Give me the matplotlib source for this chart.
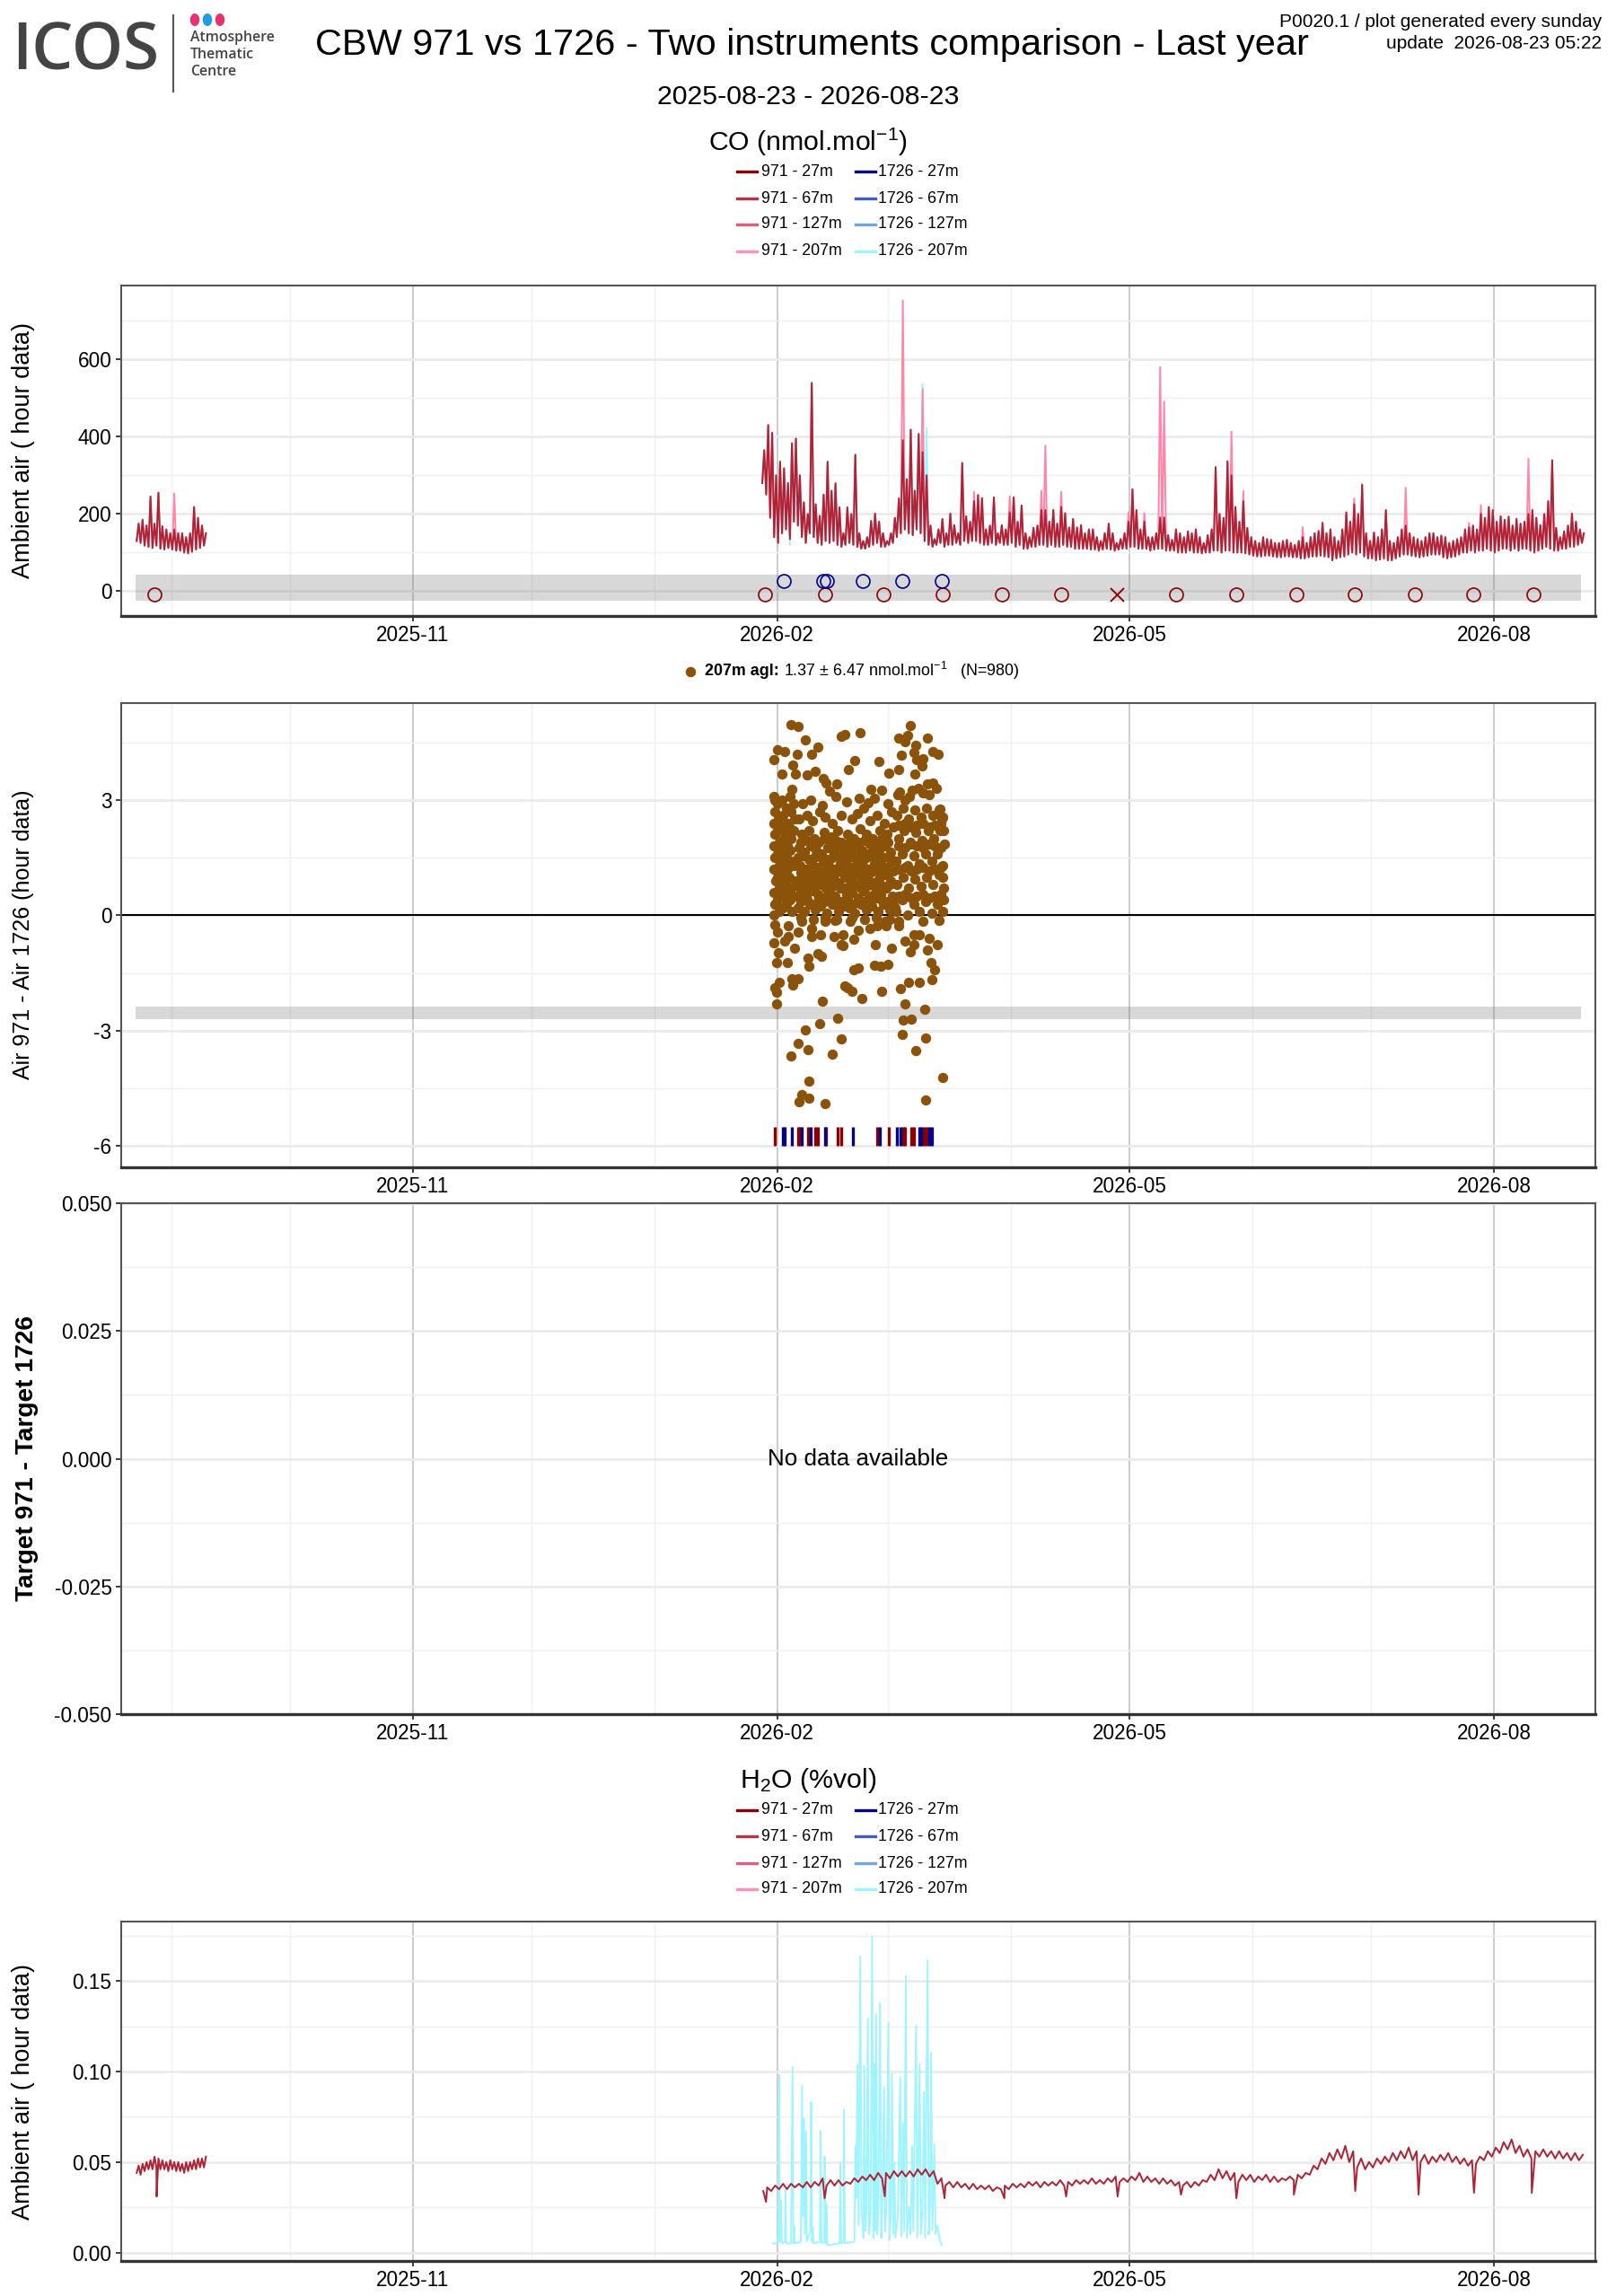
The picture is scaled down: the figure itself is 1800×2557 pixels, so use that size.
import numpy as np
import matplotlib
matplotlib.use("Agg")
import matplotlib.pyplot as plt
import matplotlib.dates as mdates
from matplotlib.lines import Line2D
from matplotlib.patches import Circle

plt.rcParams['font.family'] = ['Liberation Sans', 'DejaVu Sans']
plt.rcParams['mathtext.fontset'] = 'custom'
plt.rcParams['mathtext.rm'] = 'Liberation Sans'
plt.rcParams['mathtext.bf'] = 'Liberation Sans:bold'
plt.rcParams['mathtext.it'] = 'Liberation Sans:italic'
plt.rcParams['axes.unicode_minus'] = False

W, H, DPI = 1800, 2557, 150

# ---- data -------------------------------------------------------------
period = ['2025-08-23', '2026-08-23']
seg2_origin = '2026-02-01'   # day 0 for the second data block

# CO ambient air, first block (daily low / high from 2025-08-23)
co_seg1_low = [130, 125, 118, 115, 112, 118, 110, 108, 112, 108, 105, 105, 100, 98, 102, 108, 112, 118]
co_seg1_high = [175, 185, 170, 245, 175, 255, 168, 160, 150, 160, 150, 150, 140, 150, 218, 190, 170, 150]
co207_seg1_spike_days = [9]
co207_seg1_spike_vals = [253]

# CO ambient air, second block (daily low / high, day -4 .. 203 from 2026-02-01)
co_first_day = -4
co_low = [280, 250, 190, 140, 125, 150, 160, 135, 180, 170,
          140, 125, 150, 140, 125, 120, 130, 125, 130, 120,
          115, 120, 125, 120, 115, 110, 110, 115, 120, 125,
          115, 115, 120, 125, 140, 150, 160, 150, 145, 160,
          150, 130, 120, 115, 120, 125, 115, 120, 120, 125,
          120, 130, 125, 130, 130, 125, 120, 120, 125, 120,
          125, 120, 120, 125, 115, 120, 110, 110, 115, 115,
          120, 120, 115, 120, 115, 115, 120, 115, 115, 110,
          110, 110, 110, 108, 108, 105, 108, 110, 108, 105,
          108, 110, 110, 115, 115, 110, 110, 110, 105, 108,
          110, 110, 105, 105, 105, 100, 100, 100, 105, 100,
          100, 98, 100, 100, 105, 105, 100, 105, 105, 100,
          100, 100, 98, 95, 92, 90, 90, 92, 92, 90,
          88, 88, 90, 90, 88, 88, 85, 85, 88, 90,
          90, 92, 90, 88, 80, 85, 88, 90, 95, 100,
          95, 100, 90, 85, 85, 80, 82, 85, 80, 80,
          85, 90, 95, 95, 92, 90, 88, 90, 92, 95,
          95, 95, 88, 85, 88, 90, 95, 100, 100, 105,
          100, 105, 105, 110, 105, 100, 105, 110, 110, 105,
          110, 105, 110, 110, 105, 100, 105, 110, 115, 110,
          105, 105, 110, 110, 115, 115, 120, 125]
co_high = [365, 430, 410, 300, 335, 318, 280, 383, 395, 300,
           230, 200, 539, 225, 195, 250, 335, 260, 279, 217,
           150, 217, 200, 353, 150, 130, 140, 182, 201, 180,
           150, 130, 150, 190, 240, 391, 290, 418, 260, 407,
           360, 300, 170, 135, 160, 187, 150, 201, 171, 150,
           332, 194, 180, 233, 249, 241, 160, 170, 243, 150,
           171, 160, 204, 243, 180, 222, 150, 140, 164, 170,
           210, 210, 180, 210, 175, 218, 202, 165, 187, 165,
           171, 150, 160, 160, 140, 130, 150, 175, 150, 125,
           135, 150, 180, 264, 210, 160, 180, 140, 140, 150,
           191, 191, 145, 133, 160, 150, 140, 155, 150, 160,
           140, 125, 145, 160, 321, 200, 190, 336, 300, 218,
           180, 233, 164, 140, 130, 125, 140, 135, 133, 125,
           125, 130, 133, 125, 120, 130, 140, 125, 140, 150,
           156, 177, 150, 160, 140, 130, 160, 204, 180, 225,
           200, 276, 150, 130, 152, 140, 160, 210, 130, 125,
           140, 160, 170, 150, 140, 135, 130, 140, 150, 150,
           140, 144, 140, 125, 130, 135, 140, 160, 165, 170,
           160, 200, 190, 218, 210, 180, 194, 185, 193, 170,
           187, 175, 180, 200, 210, 190, 171, 200, 233, 339,
           164, 140, 155, 170, 201, 180, 160, 150]
co207_spike_days = [31, 36, 49, 58, 66, 67, 71, 88, 92, 96, 97, 114, 117, 132, 145, 158, 174, 177, 189]
co207_spike_vals = [752, 523, 257, 246, 260, 377, 257, 204, 202, 580, 491, 413, 259, 166, 240, 268, 177, 223, 343]
co1726_span = [-1, 42]
co1726_spike_days = [36, 37]
co1726_spike_vals = [537, 422]
co1726_low_days = [3]
co1726_low_vals = [120]

# calibration markers on CO panel (days from 2026-02-01)
cal971_days = [-157.3, -3.1, 12.0, 26.9, 41.8, 56.8, 71.8, 100.7, 116.0, 131.1, 145.9, 161.0, 175.8, 190.9]
cal971_level = -8
cal971_fail_days = [85.8]
cal1726_days = [1.7, 11.7, 12.5, 21.6, 31.6, 41.6]
cal1726_level = 26
co_band = [-25, 42]

# Air 971 - Air 1726 differences, 207m (days from 2026-02-01, nmol/mol)
diff_day = [
    3.5, 5.2, 7.1, 16.1, 17.0, 21.0, 30.7, 32.2, 33.6, 33.0, 34.9, 37.9, 39.4, 40.7, -0.9, 0.0, 2.0, 5.0, 8.6, 10.4,
    4.0, 1.2, 4.6, 7.5, 9.6, 11.6, 12.4, 15.1, 13.2, 3.7, 18.0, 19.6, 25.7, 26.5, 23.7, 28.2, 30.7, 31.4, 34.5, 35.2,
    36.8, 36.6, 34.7, 37.9, 39.4, 36.8, 34.2, 30.5, 32.3, -0.5, 20.8, 23.0, 41.2, 41.7, 40.6,
    -0.15, -0.5, -0.15, 0.6, 3.7, 5.2, 3.9, 2.5, -0.1, 4.4, 7.8, 8.0, 10.3, 11.3, 11.5, 17.1, 17.7, 18.9, 19.3, 20.6,
    21.3, 24.6, 26.1, 28.0, 26.3, 31.2, 32.3, 33.3, 36.0, 39.2, 38.8, 39.7, 31.8, 33.9, 37.2, 15.3, 10.7, 7.1, 5.4, 7.7,
    3.4, 13.9, 16.1, 31.7, 34.9, 37.5, 41.7, 8.1, 6.2, 5.6, 8.1, 12.1, 37.4,
    -0.5, 0.2, -0.7, 0.4, 1.8, 2.9, 5.2, 8.6, 8.6, 10.9, 14.3, 16.2, 16.6, 19.3, 20.6, 23.4, 25.3, 24.9, 27.6, 28.8,
    30.7, 32.2, 33.7, 34.5, 36.0, 38.4, 40.4, 37.9, 40.9, 36.8, 34.5, 16.6, 14.7, 18.5, 12.0, 6.3, 2.9, 27.3, 30.7,
    -0.9, -0.6, -0.8, -0.5, -0.9, -0.6, -0.9, -0.4, -0.8, -0.5, -0.9, 0.2, 0.4, 0.1, 0.5, 0.2, 0.6, 0.1, 0.5, 0.2,
    0.6, 1.2, 1.5, 1.1, 1.6, 1.2, 1.5, 1.1, 1.6, 1.2, 1.5, 2.3, 2.5, 2.2, 2.6, 2.3, 2.7, 2.2, 2.6, 2.3,
    3.2, 3.5, 3.1, 3.6, 3.2, 3.5, 3.1, 3.6, 3.3, 3.8, 4.2, 4.5, 4.1, 4.4, 4.6, 4.2,
    5.3, 6.8, 8.2, 9.6, 11.0, 12.5, 13.9, 15.4, 16.8, 18.2, 19.7, 21.1, 22.6, 24.0, 25.5, 26.9, 28.4, 29.8,
    5.9, 7.4, 8.8, 10.2, 11.7, 13.1, 14.6, 16.0, 17.5, 18.9, 20.4, 21.8, 23.3, 24.7, 26.2, 27.6, 29.1,
    5.4, 6.9, 8.3, 9.7, 11.2, 12.6, 14.1, 15.5, 17.0, 18.4, 19.9, 21.3, 22.8, 24.2, 25.7, 27.1, 28.6,
    5.8, 7.3, 8.7, 10.1, 11.6, 13.0, 14.5, 15.9, 17.4, 18.8, 20.3, 21.7, 23.2, 24.6, 26.1, 27.5, 29.0,
    5.5, 7.0, 8.4, 9.9, 11.3, 12.8, 14.2, 15.7, 17.1, 18.6, 20.0, 21.5, 22.9, 24.4, 25.8, 27.3, 28.7,
    6.2, 8.0, 9.5, 11.9, 13.6, 15.2, 17.8, 19.4, 21.0, 22.5, 24.1, 25.9, 27.8, 29.4,
    5.6, 7.6, 9.0, 10.8, 12.2, 14.0, 16.3, 18.9, 20.2, 23.5, 25.2, 27.0, 28.9,
    6.5, 8.5, 11.4, 14.8, 17.5, 21.8, 24.6, 27.9,
    6.0, 9.2, 12.0, 15.0, 19.0, 22.0, 25.0, 28.5,
    30.0, 31.5, 33.0, 34.5, 36.0, 37.5, 39.0, 40.5, 41.8,
    30.3, 31.8, 33.3, 34.8, 36.3, 37.8, 39.3, 40.8, 42.0,
    30.0, 31.5, 33.0, 34.5, 36.0, 37.5, 39.0, 40.5, 41.9,
    30.6, 32.1, 33.6, 35.1, 36.6, 38.1, 39.6, 41.1, 42.2,
    30.3, 31.8, 33.3, 34.8, 36.3, 37.8, 39.3, 40.8,
    31.0, 33.5, 35.8, 38.5, 40.2, 41.5, 42.0, 41.7, 42.1,
    6.1, 7.6, 9.0, 10.5, 11.9, 13.4, 14.8, 16.3, 17.7, 19.2, 20.6, 22.1, 23.5, 25.0, 26.4, 27.9, 29.3,
    5.2, 6.6, 8.1, 9.5, 11.0, 12.4, 13.9, 15.3, 16.8, 18.2, 19.7, 21.1, 22.6, 24.0, 25.5, 26.9, 28.4,
    6.1, 7.6, 9.0, 10.5, 11.9, 13.4, 14.8, 16.3, 17.7, 19.2, 20.6, 22.1, 23.5, 25.0, 26.4, 27.9, 29.3,
    5.2, 6.6, 8.1, 9.5, 11.0, 12.4, 13.9, 15.3, 16.8, 18.2, 19.7, 21.1, 22.6, 24.0, 25.5, 26.9, 28.4,
    6.1, 7.6, 9.0, 10.5, 11.9, 13.4, 14.8, 16.3, 17.7, 19.2, 20.6, 22.1, 23.5, 25.0, 26.4, 27.9,
    30.8, 32.3, 33.8, 35.3, 36.8, 38.3, 39.8, 41.3,
    30.8, 32.3, 33.8, 35.3, 36.8, 38.3, 39.8, 41.3,
    30.8, 32.3, 33.8, 35.3, 36.8, 38.3, 39.8, 41.3,
    30.8, 32.3, 33.8, 35.3, 36.8, 38.3, 39.8, 41.3]
diff_val = [
    4.96, 4.92, 4.56, 4.65, 4.70, 4.75, 4.61, 4.51, 4.94, 4.68, 4.43, 4.60, 4.27, 4.20, 4.04, 4.30, 4.26, 4.18, 4.20, 4.37,
    3.90, 3.67, 3.67, 3.65, 3.74, 3.55, 3.45, 3.41, 3.23, 3.28, 3.80, 4.02, 4.00, 3.25, 3.29, 3.69, 3.80, 4.16, 4.24, 4.05,
    4.08, 3.88, 3.67, 3.43, 3.45, 3.18, 3.25, 3.14, 3.00, 3.00, 3.04, 2.94, 2.76, 2.55, 2.31,
    -2.31, -1.88, -2.00, -1.73, -1.65, -1.65, -1.82, -1.22, -1.23, -0.86, -1.10, -1.31, -1.00, -1.06, -2.22, -1.84, -1.88, -1.98, -1.41, -1.37,
    -2.17, -1.29, -1.31, -1.28, -1.98, -1.90, -2.31, -1.75, -1.75, -1.66, -1.22, -1.41, -2.71, -2.69, -2.45, -2.67, -2.82, -2.98, -3.33, -3.49,
    -3.65, -3.61, -3.22, -3.10, -3.51, -3.18, -4.22, -4.31, -4.67, -4.84, -4.75, -4.89, -4.81,
    -0.24, -0.43, -0.71, -0.98, -0.67, -0.55, -0.43, -0.35, -0.55, -0.51, -0.55, -0.75, -0.51, -0.63, -0.39, -0.35, -0.27, -0.75, -0.27, -0.86,
    -0.27, -0.67, -0.94, -0.51, -0.51, -0.59, -0.75, -0.90, -0.12, -0.16, -0.75, -0.78, -0.12, -0.16, -0.16, -0.16, -0.27, -0.16, -0.16,
    3.1, 2.7, 2.4, 2.1, 1.8, 1.5, 1.2, 0.9, 0.6, 0.3, 0.0, 2.9, 2.5, 2.2, 1.9, 1.6, 1.3, 1.0, 0.7, 0.4,
    0.1, 3.0, 2.6, 2.3, 2.0, 1.7, 1.4, 1.1, 0.8, 0.5, 0.2, 2.8, 2.4, 2.1, 1.8, 1.5, 1.2, 0.9, 0.6, 0.3,
    3.1, 2.7, 2.3, 2.0, 1.7, 1.4, 1.0, 0.7, 0.4, 0.1, 2.9, 2.5, 2.2, 1.3, 0.9, 0.5,
    0.2, 0.1, 0.3, 0.15, 0.25, 0.05, 0.3, 0.1, 0.25, 0.2, 0.05, 0.3, 0.15, 0.25, 0.1, 0.3, 0.15, 0.2,
    0.6, 0.5, 0.65, 0.55, 0.45, 0.6, 0.5, 0.7, 0.55, 0.6, 0.45, 0.65, 0.5, 0.6, 0.55, 0.7, 0.5,
    0.9, 1.0, 0.85, 0.95, 1.05, 0.9, 1.0, 0.85, 1.0, 0.95, 1.05, 0.9, 1.0, 0.85, 0.95, 1.05, 0.9,
    1.3, 1.2, 1.35, 1.25, 1.4, 1.3, 1.2, 1.35, 1.3, 1.25, 1.4, 1.3, 1.2, 1.35, 1.3, 1.25, 1.4,
    1.75, 1.65, 1.8, 1.7, 1.6, 1.75, 1.7, 1.8, 1.65, 1.7, 1.8, 1.7, 1.6, 1.75, 1.7, 1.8, 1.65,
    2.1, 2.2, 2.0, 2.15, 2.05, 2.2, 2.1, 2.0, 2.25, 2.1, 2.0, 2.2, 2.1, 2.3,
    2.5, 2.6, 2.45, 2.7, 2.55, 2.4, 2.6, 2.5, 2.65, 2.45, 2.6, 2.4, 2.7,
    2.9, 3.0, 2.85, 3.1, 2.95, 2.8, 3.05, 2.9,
    -0.05, -0.1, -0.05, -0.1, -0.05, -0.1, -0.05, -0.1,
    0.1, 0.4, 0.0, 0.3, 0.1, 0.35, 0.05, 0.3, 0.1,
    0.8, 1.0, 0.7, 0.95, 0.75, 1.0, 0.8, 1.05, 0.7,
    1.4, 1.6, 1.3, 1.55, 1.35, 1.6, 1.4, 1.6, 1.3,
    2.0, 2.2, 1.9, 2.15, 1.95, 2.2, 2.0, 2.2, 1.85,
    2.6, 2.8, 2.5, 2.75, 2.55, 2.8, 2.6, 2.75,
    3.2, 3.1, 3.3, 3.15, 3.3, 2.5, 2.2, 1.0, 0.4,
    0.35, 0.4, 0.3, 0.45, 0.35, 0.4, 0.3, 0.35, 0.45, 0.3, 0.4, 0.35, 0.3, 0.45, 0.4, 0.35, 0.3,
    0.75, 0.8, 0.7, 0.75, 0.8, 0.7, 0.75, 0.8, 0.7, 0.75, 0.8, 0.7, 0.75, 0.8, 0.7, 0.75, 0.8,
    1.1, 1.15, 1.05, 1.1, 1.15, 1.05, 1.1, 1.15, 1.05, 1.1, 1.15, 1.05, 1.1, 1.15, 1.05, 1.1, 1.15,
    1.5, 1.55, 1.45, 1.5, 1.55, 1.45, 1.5, 1.55, 1.45, 1.5, 1.55, 1.45, 1.5, 1.55, 1.45, 1.5, 1.55,
    1.9, 1.95, 1.85, 1.9, 2.0, 1.85, 1.95, 1.9, 1.85, 2.0, 1.9, 1.95, 1.85, 1.9, 2.0, 1.9,
    0.5, 0.55, 0.45, 0.5, 0.55, 0.45, 0.5, 0.55,
    1.2, 1.25, 1.15, 1.2, 1.25, 1.15, 1.2, 1.25,
    1.8, 1.75, 1.85, 1.8, 1.75, 1.85, 1.8, 1.75,
    2.35, 2.4, 2.3, 2.35, 2.4, 2.3, 2.35, 2.4]
diff_band = [-2.69, -2.38]
diff_label_bold = '207m agl:'
diff_label_rest = r'1.37 $\pm$ 6.47 nmol.mol$^{-1}$   (N=980)'

# flagged hours (rug) on the difference panel
rug971_days = [-0.5, 5.2, 5.7, 7.8, 9.7, 10.3, 12.4, 15.3, 16.2, 25.3, 28.2, 31.8, 32.3, 33.9, 34.5, 37.1, 37.7]
rug1726_days = [1.4, 1.8, 3.7, 6.2, 8.4, 12.0, 19.1, 25.9, 30.3, 31.1, 36.0, 36.4, 38.3, 39.0]
rug_range = [-6.0, -5.5]

# H2O ambient air
h2o_seg1_low = [0.044, 0.043, 0.045, 0.046, 0.046, 0.047, 0.046, 0.046, 0.045, 0.046, 0.045, 0.045, 0.044, 0.045, 0.046, 0.046, 0.047, 0.047]
h2o_seg1_high = [0.048, 0.049, 0.050, 0.051, 0.053, 0.052, 0.051, 0.050, 0.051, 0.050, 0.050, 0.049, 0.050, 0.050, 0.051, 0.052, 0.052, 0.053]
h2o_seg1_dip_days = [5.3]
h2o_seg1_dip_vals = [0.031]
h2o_first_day = -4   # two-day steps
h2o_low = [0.034, 0.034, 0.035, 0.035, 0.036, 0.036, 0.036, 0.037, 0.037, 0.037,
           0.037, 0.038, 0.039, 0.040, 0.040, 0.041, 0.041, 0.042, 0.042, 0.042,
           0.043, 0.042, 0.038, 0.037, 0.036, 0.036, 0.035, 0.035, 0.035, 0.034,
           0.035, 0.035, 0.036, 0.036, 0.037, 0.036, 0.037, 0.037, 0.037, 0.037,
           0.038, 0.038, 0.038, 0.038, 0.039, 0.039, 0.039, 0.040, 0.039, 0.039,
           0.038, 0.038, 0.037, 0.037, 0.036, 0.037, 0.039, 0.040, 0.041, 0.040,
           0.039, 0.040, 0.039, 0.040, 0.039, 0.039, 0.040, 0.040, 0.041, 0.043,
           0.046, 0.049, 0.051, 0.052, 0.050, 0.047, 0.046, 0.047, 0.049, 0.050,
           0.051, 0.052, 0.051, 0.050, 0.049, 0.050, 0.051, 0.050, 0.049, 0.048,
           0.049, 0.051, 0.053, 0.055, 0.057, 0.055, 0.053, 0.052, 0.053, 0.053,
           0.052, 0.052, 0.051, 0.051]
h2o_high = [0.036, 0.037, 0.038, 0.038, 0.038, 0.039, 0.039, 0.041, 0.040, 0.040,
            0.039, 0.041, 0.042, 0.043, 0.044, 0.044, 0.045, 0.045, 0.045, 0.046,
            0.046, 0.045, 0.041, 0.039, 0.039, 0.038, 0.038, 0.037, 0.037, 0.036,
            0.037, 0.038, 0.038, 0.039, 0.039, 0.039, 0.039, 0.040, 0.039, 0.040,
            0.040, 0.041, 0.040, 0.041, 0.042, 0.041, 0.042, 0.044, 0.042, 0.041,
            0.041, 0.040, 0.039, 0.039, 0.039, 0.040, 0.043, 0.046, 0.045, 0.044,
            0.043, 0.043, 0.042, 0.043, 0.042, 0.041, 0.042, 0.043, 0.044, 0.048,
            0.052, 0.055, 0.057, 0.059, 0.056, 0.052, 0.050, 0.052, 0.053, 0.055,
            0.056, 0.058, 0.056, 0.054, 0.053, 0.054, 0.055, 0.053, 0.052, 0.051,
            0.053, 0.056, 0.058, 0.061, 0.0625, 0.059, 0.057, 0.056, 0.057, 0.056,
            0.056, 0.055, 0.055, 0.054]
h2o_dip_days = [-2.8, 12, 27.2, 42.3, 57.4, 73, 86, 102, 116, 130.5, 146, 162, 176, 190.6]
h2o_dip_vals = [0.028, 0.030, 0.031, 0.030, 0.030, 0.031, 0.031, 0.032, 0.030, 0.032, 0.034, 0.032, 0.033, 0.033]
h2o1726_days = [-1.1, 0.2, 0.3, 0.5, 0.7, 1.0, 1.2, 2.0, 2.1, 2.3, 3.5, 3.9, 4.1, 4.3, 4.5, 6.0, 6.3, 6.5, 6.8, 7.0,
                7.3, 7.5, 8.4, 8.6, 8.8, 9.0, 9.2, 10.8, 11.0, 11.2, 11.9, 12.0, 12.2, 12.5, 12.7, 15.8, 16.0, 16.2, 16.8, 16.9,
                17.1, 19.5, 19.8, 20.0, 20.3, 20.6, 21.0, 21.3, 21.6, 21.8, 22.0, 22.3, 22.6, 22.9, 23.2, 23.6, 24.0, 24.3, 24.5, 24.8,
                25.0, 25.3, 25.6, 26.0, 26.3, 26.6, 27.0, 27.3, 27.6, 28.1, 28.4, 28.7, 29.0, 29.3, 29.6, 29.9, 30.5, 31.1, 31.4, 31.8,
                32.1, 32.5, 32.8, 33.3, 33.7, 34.1, 34.4, 35.1, 35.4, 36.0, 36.3, 36.7, 37.1, 37.4, 38.0, 38.3, 38.6, 38.9, 39.2, 39.7,
                40.0, 40.5, 41.0, 41.6]
h2o1726_vals = [0.005, 0.005, 0.015, 0.098, 0.006, 0.029, 0.005, 0.006, 0.0345, 0.005, 0.005, 0.1025, 0.005, 0.0145, 0.005, 0.006, 0.092, 0.020, 0.074, 0.010,
                0.067, 0.006, 0.012, 0.083, 0.006, 0.014, 0.005, 0.006, 0.067, 0.005, 0.006, 0.053, 0.005, 0.027, 0.004, 0.005, 0.0495, 0.005, 0.006, 0.079,
                0.005, 0.006, 0.0587, 0.030, 0.104, 0.015, 0.1637, 0.020, 0.018, 0.008, 0.103, 0.012, 0.025, 0.1295, 0.010, 0.020, 0.175, 0.008, 0.1045, 0.012,
                0.1317, 0.010, 0.025, 0.138, 0.008, 0.030, 0.0915, 0.012, 0.025, 0.127, 0.007, 0.022, 0.0987, 0.010, 0.0495, 0.008, 0.020, 0.097, 0.009, 0.0717,
                0.012, 0.153, 0.008, 0.025, 0.010, 0.0587, 0.012, 0.1257, 0.008, 0.1045, 0.010, 0.022, 0.0887, 0.008, 0.1617, 0.010, 0.025, 0.1105, 0.012, 0.060,
                0.010, 0.015, 0.008, 0.004]

legend_labels = ['971 - 27m', '971 - 67m', '971 - 127m', '971 - 207m',
                 '1726 - 27m', '1726 - 67m', '1726 - 127m', '1726 - 207m']
legend_colors = ['#8B0000', '#B8323F', '#E0607C', '#FF91B2',
                 '#00008B', '#3D5EC8', '#6FA8E0', '#9EF4FF']

# ---- helpers -----------------------------------------------------------
FEB1 = mdates.date2num(np.datetime64(seg2_origin))
AUG23 = mdates.date2num(np.datetime64(period[0]))
P_END = mdates.date2num(np.datetime64(period[1]))
span = P_END - AUG23
XLIM = (AUG23 - 0.01 * span, P_END + 0.01 * span)


def zigzag(origin, first_day, lows, highs, step=1.0):
    t, v = [], []
    for i, (lo, hi) in enumerate(zip(lows, highs)):
        d = first_day + i * step
        t += [d + 0.25 * step, d + 0.75 * step]
        v += [lo, hi]
    return origin + np.array(t), np.array(v)


def override(vals, first_day, days, new, step=1):
    out = list(vals)
    for d, v in zip(days, new):
        out[int((d - first_day) / step)] = v
    return out


def with_dips(t, v, origin, days, vals):
    t = np.concatenate([t, origin + np.array(days, float)])
    v = np.concatenate([v, np.array(vals, float)])
    o = np.argsort(t)
    return t[o], v[o]


def join(*parts):
    ts, vs = [], []
    for t, v in parts:
        ts += [t, [np.nan]]
        vs += [v, [np.nan]]
    return np.concatenate(ts), np.concatenate(vs)


def fx(px):
    return px / W


def fy(py):
    return 1 - py / H


def style_axes(ax):
    ax.set_xlim(*XLIM)
    ax.xaxis.set_major_locator(mdates.MonthLocator(bymonth=[2, 5, 8, 11]))
    ax.xaxis.set_minor_locator(mdates.MonthLocator())
    ax.xaxis.set_major_formatter(mdates.DateFormatter('%Y-%m'))
    ax.set_axisbelow(True)
    ax.grid(which='minor', color='#F1F1F1', lw=0.7)
    ax.grid(which='major', axis='y', color='#EBEBEB', lw=1.3)
    ax.grid(which='major', axis='x', color='#CDCDCD', lw=1.0)
    ax.tick_params(which='minor', length=0)
    ax.tick_params(which='major', length=3, width=0.9, color='#333333',
                   labelsize=10.8, pad=2, labelcolor='black')
    for s in ax.spines.values():
        s.set_color('#555555')
        s.set_linewidth(1.0)
    ax.spines['bottom'].set_color('#333333')
    ax.spines['bottom'].set_linewidth(1.6)


def draw_legend(title, title_y, rows_y):
    fig.text(0.5, fy(title_y), title, ha='center', va='center', fontsize=14.5)
    cols = [(821, 848), (953, 978)]
    for i, (lab, col) in enumerate(zip(legend_labels, legend_colors)):
        (lx, tx), y = cols[i // 4], rows_y[i % 4]
        fig.add_artist(Line2D([fx(lx), fx(lx + 22)], [fy(y), fy(y)], color=col, lw=1.6))
        fig.text(fx(tx), fy(y), lab, ha='left', va='center', fontsize=8.5)


# ---- figure ------------------------------------------------------------
fig = plt.figure(figsize=(W / DPI, H / DPI), dpi=DPI)

LEFT, WIDTH = fx(135), (1777 - 135) / W
ax1 = fig.add_axes([LEFT, fy(686), WIDTH, (686 - 318) / H])
ax2 = fig.add_axes([LEFT, fy(1300), WIDTH, (1300 - 783) / H])
ax3 = fig.add_axes([LEFT, fy(1909), WIDTH, (1909 - 1340) / H])
ax4 = fig.add_axes([LEFT, fy(2518), WIDTH, (2518 - 2140) / H])
for ax in (ax1, ax2, ax3, ax4):
    style_axes(ax)

# header
fig.text(fx(13), fy(59), 'ICOS', family=['Open Sans', 'DejaVu Sans'], fontweight='semibold',
         fontsize=35, color='#444444', ha='left', va='center')
fig.add_artist(Line2D([fx(193), fx(193)], [fy(17), fy(102)], color='#555555', lw=1.0))
for cx, cc in zip([217, 231, 245], ['#E8336E', '#1E9BE9', '#E8336E']):
    fig.add_artist(Circle((fx(cx), fy(22)), 4.2 / W, color=cc, transform=fig.transFigure))
for ty, tt in zip([42, 61, 80], ['Atmosphere', 'Thematic', 'Centre']):
    fig.text(fx(212), fy(ty), tt, family=['Open Sans', 'DejaVu Sans'], fontweight='semibold',
             fontsize=7.6, color='#444444', ha='left', va='center')
fig.text(fx(904), fy(50), 'CBW 971 vs 1726 - Two instruments comparison - Last year',
         ha='center', va='center', fontsize=19.9)
fig.text(fx(1784), fy(24), 'P0020.1 / plot generated every sunday', ha='right', va='center', fontsize=10)
fig.text(fx(1784), fy(48), 'update  2026-08-23 05:22', ha='right', va='center', fontsize=10)
fig.text(0.5, fy(108), f'{period[0]} - {period[1]}', ha='center', va='center', fontsize=14.5)

# ---- panel 1 : CO ambient air -----------------------------------------
draw_legend(r'CO (nmol.mol$^{-1}$)', 158, [191, 221, 250, 280])

s1 = zigzag(AUG23, 0, co_seg1_low, co_seg1_high)
s2 = zigzag(FEB1, co_first_day, co_low, co_high)
p1 = zigzag(AUG23, 0, co_seg1_low, override(co_seg1_high, 0, co207_seg1_spike_days, co207_seg1_spike_vals))
p2 = zigzag(FEB1, co_first_day, co_low, override(co_high, co_first_day, co207_spike_days, co207_spike_vals))
i0, i1 = co1726_span[0] - co_first_day, co1726_span[1] - co_first_day + 1
c_low = override(co_low, co_first_day, co1726_low_days, co1726_low_vals)[i0:i1]
c_high = override(co_high, co_first_day, co1726_spike_days, co1726_spike_vals)[i0:i1]
c2 = zigzag(FEB1, co1726_span[0], c_low, c_high)

ax1.fill_between([AUG23, P_END], co_band[0], co_band[1], color='grey', alpha=0.3, lw=0, zorder=1)
ax1.plot(*c2, color=legend_colors[7], lw=0.95, zorder=2)
ax1.plot(*join(p1, p2), color='#FF86A8', lw=0.95, zorder=3)
ax1.plot(*join(s1, s2), color='#AE2437', lw=0.95, zorder=4)
ax1.plot(FEB1 + np.array(cal971_days), [cal971_level] * len(cal971_days), 'o', mfc='none',
         mec='#8B0000', ms=7.2, mew=0.8, zorder=5)
ax1.plot(FEB1 + np.array(cal971_fail_days), [cal971_level] * len(cal971_fail_days), 'x',
         mec='#8B0000', ms=7.2, mew=0.9, zorder=5)
ax1.plot(FEB1 + np.array(cal1726_days), [cal1726_level] * len(cal1726_days), 'o', mfc='none',
         mec='#00008B', ms=7.2, mew=0.8, zorder=5)
ax1.set_ylim(-64, 791)
ax1.set_yticks([0, 200, 400, 600])
ax1.set_yticks([100, 300, 500, 700], minor=True)
fig.text(fx(26), fy(502), 'Ambient air ( hour data)', rotation=90, ha='center', va='center', fontsize=13)

# ---- panel 2 : difference ---------------------------------------------
fig.add_artist(Line2D([fx(769)], [fy(748)], marker='o', color='#8B5209', ms=4.5, ls='none'))
renderer = fig.canvas.get_renderer()
tb = fig.text(fx(785), fy(747), diff_label_bold, ha='left', va='center', fontsize=8.6, fontweight='bold')
bx = tb.get_window_extent(renderer=renderer).x1
fig.text(bx / W + fx(5), fy(747), diff_label_rest, ha='left', va='center', fontsize=8.6)
ax2.fill_between([AUG23, P_END], diff_band[0], diff_band[1], color='grey', alpha=0.3, lw=0, zorder=1)
ax2.axhline(0, color='black', lw=1.0, zorder=2)
ax2.scatter(FEB1 + np.array(diff_day), diff_val, s=30, color='#8B5209', lw=0, zorder=3)
ax2.vlines(FEB1 + np.array(rug971_days), rug_range[0], rug_range[1], colors='#8B0000', lw=1.6, zorder=4)
ax2.vlines(FEB1 + np.array(rug1726_days), rug_range[0], rug_range[1], colors='#00008B', lw=1.6, zorder=4)
ax2.set_ylim(-6.55, 5.52)
ax2.set_yticks([-6, -3, 0, 3])
ax2.set_yticks([-4.5, -1.5, 1.5, 4.5], minor=True)
fig.text(fx(26), fy(1041), 'Air 971 - Air 1726 (hour data)', rotation=90, ha='center', va='center', fontsize=12)

# ---- panel 3 : target differences (empty) -----------------------------
ax3.set_ylim(-0.05, 0.05)
ax3.set_yticks([-0.05, -0.025, 0, 0.025, 0.05])
ax3.set_yticklabels(['-0.050', '-0.025', '0.000', '0.025', '0.050'])
ax3.set_yticks([-0.0375, -0.0125, 0.0125, 0.0375], minor=True)
ax3.text(0.5, 0.5, 'No data available', transform=ax3.transAxes, ha='center', va='center', fontsize=12.5)
fig.text(fx(30), fy(1624), 'Target 971 - Target 1726', rotation=90, ha='center', va='center',
         fontsize=13.5, fontweight='bold')

# ---- panel 4 : H2O ambient air ----------------------------------------
draw_legend(r'H$_2$O (%vol)', 1983, [2016, 2045, 2075, 2104])
h1 = with_dips(*zigzag(AUG23, 0, h2o_seg1_low, h2o_seg1_high), AUG23, h2o_seg1_dip_days, h2o_seg1_dip_vals)
h2 = with_dips(*zigzag(FEB1, h2o_first_day, h2o_low, h2o_high, step=2.0), FEB1, h2o_dip_days, h2o_dip_vals)
ax4.plot(FEB1 + np.array(h2o1726_days), h2o1726_vals, color=legend_colors[7], lw=0.9, zorder=2)
ax4.plot(*join(h1, h2), color='#AE2437', lw=0.95, zorder=3)
ax4.set_ylim(-0.0047, 0.183)
ax4.set_yticks([0, 0.05, 0.10, 0.15])
ax4.set_yticklabels(['0.00', '0.05', '0.10', '0.15'])
ax4.set_yticks([0.025, 0.075, 0.125, 0.175], minor=True)
fig.text(fx(26), fy(2329), 'Ambient air ( hour data)', rotation=90, ha='center', va='center', fontsize=13)

fig.savefig('out.png', dpi=DPI)
